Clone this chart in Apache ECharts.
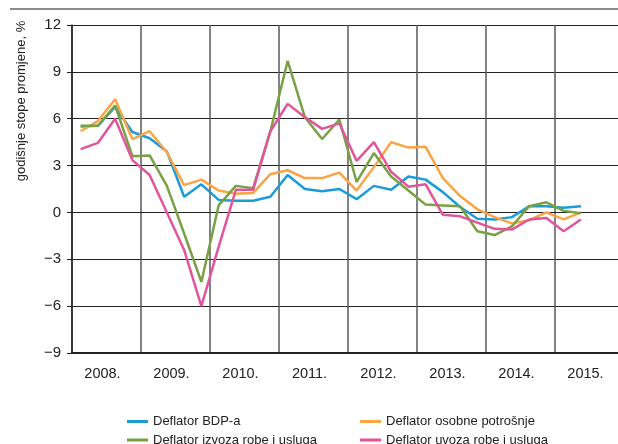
<!DOCTYPE html>
<html>
<head>
<meta charset="utf-8">
<script src="https://cdn.jsdelivr.net/npm/echarts@6/dist/echarts.min.js"></script>
<style>
  html, body { margin: 0; padding: 0; background: #ffffff; }
  #chart { width: 618px; height: 444px; }
</style>
</head>
<body>
<div id="chart"></div>
<script>
// kvartali 2008. - 2015. (zadnja dva kvartala 2015. prazna)
const years = ["2008.", "2009.", "2010.", "2011.", "2012.", "2013.", "2014.", "2015."];
const quarters = [];
years.forEach(y => {
  for (let q = 1; q <= 4; q++) quarters.push(y + "Q" + q);
});

const yTicks = { min: -9, max: 12, interval: 3 };

const bdp = [5.5, 5.55, 6.75, 5.15, 4.75, 3.9, 1.0, 1.8, 0.8, 0.75, 0.75, 1.0, 2.4, 1.5, 1.35, 1.5,
  0.85, 1.7, 1.45, 2.3, 2.1, 1.3, 0.35, -0.4, -0.45, -0.3, 0.4, 0.4, 0.3, 0.4];
const osobna = [5.2, 5.85, 7.25, 4.7, 5.2, 3.85, 1.75, 2.1, 1.4, 1.2, 1.25, 2.45, 2.7, 2.2, 2.2, 2.55,
  1.4, 2.9, 4.5, 4.15, 4.2, 2.2, 1.05, 0.2, -0.3, -0.7, -0.5, 0.0, -0.45, 0.0];
const izvoz = [5.55, 5.55, 6.85, 3.6, 3.65, 1.7, -1.35, -4.45, 0.45, 1.7, 1.55, 5.2, 9.7, 6.1, 4.7, 5.95,
  1.95, 3.8, 2.3, 1.4, 0.5, 0.45, 0.4, -1.2, -1.45, -0.9, 0.4, 0.65, 0.1, -0.05];
const uvoz = [4.05, 4.45, 6.0, 3.35, 2.4, 0.0, -2.4, -6.0, -2.2, 1.45, 1.45, 5.2, 6.95, 6.1, 5.35, 5.7,
  3.3, 4.5, 2.6, 1.65, 1.8, -0.15, -0.25, -0.65, -1.05, -1.1, -0.45, -0.35, -1.2, -0.45];

const names = ["Deflator BDP-a", "Deflator osobne potrošnje", "Deflator izvoza robe i usluga", "Deflator uvoza robe i usluga"];
const colors = ["#1b9cd8", "#fba443", "#78a144", "#e2559b"];

const font = "'Liberation Sans', Arial, sans-serif";
const myChart = echarts.init(document.getElementById("chart"));

const mkLegend = (left, data) => ({
  orient: "vertical",
  left: left,
  top: 409,
  height: 40,
  itemWidth: 21,
  itemHeight: 3,
  itemGap: 3.5,
  icon: "rect",
  data: data,
  textStyle: { fontFamily: font, fontSize: 13, color: "#222", lineHeight: 15 }
});

const option = {
  animation: false,
  color: colors,
  graphic: [
    {
      type: "line",
      shape: { x1: 10, y1: 9, x2: 618, y2: 9 },
      style: { stroke: "#8c8c8c", lineWidth: 2 }
    },
    {
      type: "text",
      x: 21,
      y: 101,
      rotation: Math.PI / 2,
      style: {
        text: "godišnje stope promjene, %",
        fontFamily: font,
        fontSize: 13,
        fill: "#222",
        align: "center",
        verticalAlign: "middle"
      }
    }
  ],
  legend: [mkLegend(122, [names[0], names[2]]), mkLegend(355, [names[1], names[3]])],
  grid: { left: 72, top: 25, right: -6, bottom: 91, outerBoundsMode: "none" },
  xAxis: [
    {
      type: "category",
      position: "top",
      data: quarters,
      boundaryGap: true,
      axisLine: { show: true, lineStyle: { color: "#222", width: 1 } },
      axisTick: { show: false },
      axisLabel: { show: false },
      splitLine: { show: false }
    },
    {
      type: "category",
      position: "bottom",
      data: years,
      boundaryGap: true,
      axisLine: { show: true, lineStyle: { color: "#222", width: 2 } },
      axisTick: { show: false },
      axisLabel: {
        interval: 0,
        margin: 13,
        padding: [0, 8, 0, 0],
        fontFamily: font,
        fontSize: 14.5,
        color: "#222"
      },
      splitLine: { show: true, interval: 0, lineStyle: { color: "#5a5a5a", width: 1.5 } }
    }
  ],
  yAxis: {
    type: "value",
    min: yTicks.min,
    max: yTicks.max,
    interval: yTicks.interval,
    axisLine: { show: true, lineStyle: { color: "#222", width: 1.5 } },
    axisTick: { show: true, length: 5, lineStyle: { color: "#222" } },
    axisLabel: {
      margin: 11,
      fontFamily: font,
      fontSize: 15,
      color: "#222",
      formatter: v => (v < 0 ? "\u2212" + Math.abs(v) : String(v))
    },
    splitLine: { show: true, lineStyle: { color: "#222", width: 1 } }
  },
  series: [bdp, osobna, izvoz, uvoz].map((d, i) => ({
    name: names[i],
    type: "line",
    xAxisIndex: 0,
    data: d,
    symbol: "none",
    lineStyle: { width: 2.5, color: colors[i] },
    itemStyle: { color: colors[i] }
  }))
};

myChart.setOption(option);
</script>
</body>
</html>
